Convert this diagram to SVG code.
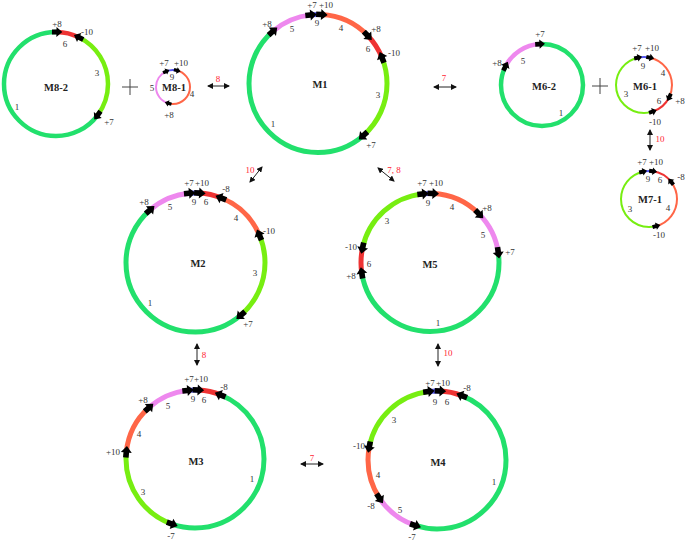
<svg xmlns="http://www.w3.org/2000/svg" xmlns:xlink="http://www.w3.org/1999/xlink" width="685" height="541" viewBox="0 0 685 541">
<defs>
<style>
.s{fill:none}
.g{stroke:#22e06c}
.y{stroke:#77ee11}
.r{stroke:#ee3333}
.o{stroke:#ff6647}
.v{stroke:#ee88ee}
.b{stroke:#5555ee}
.w5{stroke-width:5}
.w4{stroke-width:4.5}
.w2{stroke-width:2}
text{font-family:"Liberation Serif","Times New Roman",serif;text-anchor:middle}
.l{font-size:9px;fill:#333}
.n{font-size:10.5px;font-weight:bold;fill:#222}
.e{font-size:9px;fill:#ff2233}
.c{stroke:#222;stroke-width:1;fill:none;marker-start:url(#m);marker-end:url(#m)}
.p{stroke:#444;stroke-width:1}
</style>
<path id="ah" d="M-5.5,-2.8 H-0.5 V-5.5 L6,0 L-0.5,5.5 V2.8 H-5.5 Z" fill="#000"/>
<marker id="m" viewBox="0 0 6 6" refX="5" refY="3" markerWidth="6" markerHeight="6" markerUnits="userSpaceOnUse" orient="auto-start-reverse">
<path d="M0,0 L6,3 L0,6 Z" fill="#111"/>
</marker>
</defs>
<rect width="685" height="541" fill="#fff"/>

<g id="plus">
<line class="p" x1="122" y1="87" x2="138" y2="87"/><line class="p" x1="130" y1="79" x2="130" y2="95"/>
<line class="p" x1="592" y1="86" x2="608" y2="86"/><line class="p" x1="600" y1="78" x2="600" y2="94"/>
</g>

<g id="M8-2">
<circle class="s r w4" cx="56" cy="84" r="52" pathLength="360" stroke-dasharray="25 335" stroke-dashoffset="89"/>
<circle class="s y w4" cx="56" cy="84" r="52" pathLength="360" stroke-dasharray="101 259" stroke-dashoffset="64"/>
<circle class="s g w4" cx="56" cy="84" r="52" pathLength="360" stroke-dasharray="234 126" stroke-dashoffset="323"/>
<use href="#ah" transform="translate(56,84) rotate(271) translate(52,0) rotate(90) scale(0.9)"/>
<use href="#ah" transform="translate(56,84) rotate(296) translate(52,0) rotate(-90) scale(0.9)"/>
<use href="#ah" transform="translate(56,84) rotate(37) translate(52,0) rotate(90) scale(0.9)"/>
<text class="l" x="57" y="27">+8</text><text class="l" x="87" y="35">-10</text><text class="l" x="65" y="47">6</text>
<text class="l" x="97" y="76">3</text><text class="l" x="109" y="125">+7</text><text class="l" x="17" y="110">1</text>
<text class="n" x="56" y="91">M8-2</text>
</g>

<g id="M8-1">
<circle class="s b w2" cx="173" cy="87" r="17" pathLength="360" stroke-dasharray="38 322" stroke-dashoffset="114"/>
<circle class="s o w2" cx="173" cy="87" r="17" pathLength="360" stroke-dasharray="182 178" stroke-dashoffset="76"/>
<circle class="s v w2" cx="173" cy="87" r="17" pathLength="360" stroke-dasharray="140 220" stroke-dashoffset="254"/>
<use href="#ah" transform="translate(173,87) rotate(246) translate(17,0) rotate(90) scale(0.6)"/>
<use href="#ah" transform="translate(173,87) rotate(284) translate(17,0) rotate(90) scale(0.6)"/>
<use href="#ah" transform="translate(173,87) rotate(106) translate(17,0) rotate(90) scale(0.6)"/>
<text class="l" x="164" y="66">+7</text><text class="l" x="181" y="66">+10</text><text class="l" x="172" y="80">9</text>
<text class="l" x="152" y="91">5</text><text class="l" x="192" y="97">4</text><text class="l" x="169" y="118">+8</text>
<text class="n" x="174" y="91">M8-1</text>
</g>

<g id="M1">
<circle class="s v w5" cx="318" cy="83.5" r="69" pathLength="360" stroke-dasharray="35 325" stroke-dashoffset="131"/>
<circle class="s b w5" cx="318" cy="83.5" r="69" pathLength="360" stroke-dasharray="9 351" stroke-dashoffset="96"/>
<circle class="s o w5" cx="318" cy="83.5" r="69" pathLength="360" stroke-dasharray="43 317" stroke-dashoffset="87"/>
<circle class="s r w5" cx="318" cy="83.5" r="69" pathLength="360" stroke-dasharray="22 338" stroke-dashoffset="44"/>
<circle class="s y w5" cx="318" cy="83.5" r="69" pathLength="360" stroke-dasharray="71 289" stroke-dashoffset="22"/>
<circle class="s g w5" cx="318" cy="83.5" r="69" pathLength="360" stroke-dasharray="180 180" stroke-dashoffset="311"/>
<use href="#ah" transform="translate(318,83.5) rotate(264) translate(69,0) rotate(90)"/>
<use href="#ah" transform="translate(318,83.5) rotate(273) translate(69,0) rotate(90)"/>
<use href="#ah" transform="translate(318,83.5) rotate(316) translate(69,0) rotate(90)"/>
<use href="#ah" transform="translate(318,83.5) rotate(338) translate(69,0) rotate(-90)"/>
<use href="#ah" transform="translate(318,83.5) rotate(49) translate(69,0) rotate(90)"/>
<use href="#ah" transform="translate(318,83.5) rotate(229) translate(69,0) rotate(90)"/>
<text class="l" x="312" y="8">+7</text><text class="l" x="326" y="8">+10</text><text class="l" x="317" y="26">9</text>
<text class="l" x="341" y="31">4</text><text class="l" x="376" y="32">+8</text><text class="l" x="368" y="52">6</text>
<text class="l" x="394" y="56">-10</text><text class="l" x="378" y="98">3</text><text class="l" x="273" y="127">1</text>
<text class="l" x="371" y="148">+7</text><text class="l" x="267" y="27">+8</text><text class="l" x="292" y="32">5</text>
<text class="n" x="320" y="88">M1</text>
</g>

<g id="M6-2">
<circle class="s v w4" cx="542" cy="85" r="41" pathLength="360" stroke-dasharray="60 300" stroke-dashoffset="153"/>
<circle class="s g w4" cx="542" cy="85" r="41" pathLength="360" stroke-dasharray="300 60" stroke-dashoffset="93"/>
<use href="#ah" transform="translate(542,85) rotate(267) translate(41,0) rotate(90) scale(0.85)"/>
<use href="#ah" transform="translate(542,85) rotate(207) translate(41,0) rotate(90) scale(0.85)"/>
<text class="l" x="540" y="37">+7</text><text class="l" x="497" y="66">+8</text><text class="l" x="523" y="64">5</text>
<text class="l" x="561" y="116">1</text>
<text class="n" x="544" y="90">M6-2</text>
</g>

<g id="M6-1">
<circle class="s b w2" cx="644" cy="85" r="28" pathLength="360" stroke-dasharray="26 334" stroke-dashoffset="103"/>
<circle class="s o w2" cx="644" cy="85" r="28" pathLength="360" stroke-dasharray="103 257" stroke-dashoffset="77"/>
<circle class="s r w2" cx="644" cy="85" r="28" pathLength="360" stroke-dasharray="46 314" stroke-dashoffset="334"/>
<circle class="s y w2" cx="644" cy="85" r="28" pathLength="360" stroke-dasharray="185 175" stroke-dashoffset="288"/>
<use href="#ah" transform="translate(644,85) rotate(257.5) translate(28,0) rotate(90) scale(0.7)"/>
<use href="#ah" transform="translate(644,85) rotate(282.5) translate(28,0) rotate(90) scale(0.7)"/>
<use href="#ah" transform="translate(644,85) rotate(25.6) translate(28,0) rotate(90) scale(0.7)"/>
<use href="#ah" transform="translate(644,85) rotate(72) translate(28,0) rotate(-90) scale(0.7)"/>
<text class="l" x="637" y="51">+7</text><text class="l" x="652" y="51">+10</text><text class="l" x="643" y="69">9</text>
<text class="l" x="663" y="76">4</text><text class="l" x="680" y="104">+8</text><text class="l" x="659" y="104">6</text>
<text class="l" x="626" y="97">3</text><text class="l" x="655" y="125">-10</text>
<text class="n" x="645" y="90">M6-1</text>
</g>

<g id="M7-1">
<circle class="s b w2" cx="649" cy="199" r="28" pathLength="360" stroke-dasharray="21 339" stroke-dashoffset="103"/>
<circle class="s r w2" cx="649" cy="199" r="28" pathLength="360" stroke-dasharray="44 316" stroke-dashoffset="82"/>
<circle class="s o w2" cx="649" cy="199" r="28" pathLength="360" stroke-dasharray="113 247" stroke-dashoffset="38"/>
<circle class="s y w2" cx="649" cy="199" r="28" pathLength="360" stroke-dasharray="182 178" stroke-dashoffset="285"/>
<use href="#ah" transform="translate(649,199) rotate(257.5) translate(28,0) rotate(90) scale(0.7)"/>
<use href="#ah" transform="translate(649,199) rotate(278) translate(28,0) rotate(90) scale(0.7)"/>
<use href="#ah" transform="translate(649,199) rotate(322) translate(28,0) rotate(-90) scale(0.7)"/>
<use href="#ah" transform="translate(649,199) rotate(75) translate(28,0) rotate(-90) scale(0.7)"/>
<text class="l" x="642" y="165">+7</text><text class="l" x="656" y="165">+10</text><text class="l" x="648" y="182">9</text>
<text class="l" x="660" y="183">6</text><text class="l" x="681" y="180">-8</text><text class="l" x="668" y="211">4</text>
<text class="l" x="630" y="212">3</text><text class="l" x="659" y="238">-10</text>
<text class="n" x="650" y="203">M7-1</text>
</g>

<g id="M2">
<circle class="s v w5" cx="195.5" cy="262.5" r="69.5" pathLength="360" stroke-dasharray="36 324" stroke-dashoffset="131"/>
<circle class="s b w5" cx="195.5" cy="262.5" r="69.5" pathLength="360" stroke-dasharray="8 352" stroke-dashoffset="95"/>
<circle class="s r w5" cx="195.5" cy="262.5" r="69.5" pathLength="360" stroke-dasharray="19 341" stroke-dashoffset="87"/>
<circle class="s o w5" cx="195.5" cy="262.5" r="69.5" pathLength="360" stroke-dasharray="45 315" stroke-dashoffset="68"/>
<circle class="s y w5" cx="195.5" cy="262.5" r="69.5" pathLength="360" stroke-dasharray="72 288" stroke-dashoffset="23"/>
<circle class="s g w5" cx="195.5" cy="262.5" r="69.5" pathLength="360" stroke-dasharray="180 180" stroke-dashoffset="311"/>
<use href="#ah" transform="translate(195.5,262.5) rotate(229) translate(69.5,0) rotate(90)"/>
<use href="#ah" transform="translate(195.5,262.5) rotate(265) translate(69.5,0) rotate(90)"/>
<use href="#ah" transform="translate(195.5,262.5) rotate(273.4) translate(69.5,0) rotate(90)"/>
<use href="#ah" transform="translate(195.5,262.5) rotate(291.6) translate(69.5,0) rotate(-90)"/>
<use href="#ah" transform="translate(195.5,262.5) rotate(336.8) translate(69.5,0) rotate(-90)"/>
<use href="#ah" transform="translate(195.5,262.5) rotate(49.2) translate(69.5,0) rotate(90)"/>
<text class="l" x="144" y="205">+8</text><text class="l" x="170" y="210">5</text><text class="l" x="189" y="186">+7</text>
<text class="l" x="202" y="186">+10</text><text class="l" x="194" y="205">9</text><text class="l" x="206" y="205">6</text>
<text class="l" x="226" y="192">-8</text><text class="l" x="236" y="221">4</text><text class="l" x="269" y="234">-10</text>
<text class="l" x="255" y="276">3</text><text class="l" x="150" y="306">1</text><text class="l" x="248" y="327">+7</text>
<text class="n" x="198" y="267">M2</text>
</g>

<g id="M5">
<circle class="s b w5" cx="430" cy="262.5" r="69" pathLength="360" stroke-dasharray="8.5 351.5" stroke-dashoffset="96"/>
<circle class="s o w5" cx="430" cy="262.5" r="69" pathLength="360" stroke-dasharray="42.5 317.5" stroke-dashoffset="87.5"/>
<circle class="s v w5" cx="430" cy="262.5" r="69" pathLength="360" stroke-dasharray="37 323" stroke-dashoffset="45"/>
<circle class="s g w5" cx="430" cy="262.5" r="69" pathLength="360" stroke-dasharray="179 181" stroke-dashoffset="8"/>
<circle class="s r w5" cx="430" cy="262.5" r="69" pathLength="360" stroke-dasharray="21 339" stroke-dashoffset="189"/>
<circle class="s y w5" cx="430" cy="262.5" r="69" pathLength="360" stroke-dasharray="72 288" stroke-dashoffset="168"/>
<use href="#ah" transform="translate(430,262.5) rotate(264) translate(69,0) rotate(90)"/>
<use href="#ah" transform="translate(430,262.5) rotate(272.5) translate(69,0) rotate(90)"/>
<use href="#ah" transform="translate(430,262.5) rotate(315.3) translate(69,0) rotate(90)"/>
<use href="#ah" transform="translate(430,262.5) rotate(351.8) translate(69,0) rotate(90)"/>
<use href="#ah" transform="translate(430,262.5) rotate(171.2) translate(69,0) rotate(90)"/>
<use href="#ah" transform="translate(430,262.5) rotate(192.2) translate(69,0) rotate(-90)"/>
<text class="l" x="422" y="186">+7</text><text class="l" x="436" y="186">+10</text><text class="l" x="428" y="206">9</text>
<text class="l" x="452" y="210">4</text><text class="l" x="487" y="211">+8</text><text class="l" x="483" y="238">5</text>
<text class="l" x="510" y="255">+7</text><text class="l" x="351" y="250">-10</text><text class="l" x="369" y="267">6</text>
<text class="l" x="351" y="279">+8</text><text class="l" x="387" y="224">3</text><text class="l" x="438" y="326">1</text>
<text class="n" x="430" y="268">M5</text>
</g>

<g id="M3">
<circle class="s b w5" cx="195" cy="459" r="69" pathLength="360" stroke-dasharray="9 351" stroke-dashoffset="96"/>
<circle class="s r w5" cx="195" cy="459" r="69" pathLength="360" stroke-dasharray="19 341" stroke-dashoffset="87"/>
<circle class="s g w5" cx="195" cy="459" r="69" pathLength="360" stroke-dasharray="177.5 182.5" stroke-dashoffset="68"/>
<circle class="s y w5" cx="195" cy="459" r="69" pathLength="360" stroke-dasharray="76.5 283.5" stroke-dashoffset="250.5"/>
<circle class="s o w5" cx="195" cy="459" r="69" pathLength="360" stroke-dasharray="42 318" stroke-dashoffset="174"/>
<circle class="s v w5" cx="195" cy="459" r="69" pathLength="360" stroke-dasharray="36 324" stroke-dashoffset="132"/>
<use href="#ah" transform="translate(195,459) rotate(264) translate(69,0) rotate(90)"/>
<use href="#ah" transform="translate(195,459) rotate(272.6) translate(69,0) rotate(90)"/>
<use href="#ah" transform="translate(195,459) rotate(291.6) translate(69,0) rotate(-90)"/>
<use href="#ah" transform="translate(195,459) rotate(109.5) translate(69,0) rotate(-90)"/>
<use href="#ah" transform="translate(195,459) rotate(185.8) translate(69,0) rotate(90)"/>
<use href="#ah" transform="translate(195,459) rotate(228) translate(69,0) rotate(90)"/>
<text class="l" x="189" y="382">+7</text><text class="l" x="201" y="382">+10</text><text class="l" x="193" y="402">9</text>
<text class="l" x="204" y="403">6</text><text class="l" x="224" y="390">-8</text><text class="l" x="143" y="403">+8</text>
<text class="l" x="168" y="409">5</text><text class="l" x="139" y="437">4</text><text class="l" x="113" y="455">+10</text>
<text class="l" x="143" y="495">3</text><text class="l" x="171" y="539">-7</text><text class="l" x="252" y="482">1</text>
<text class="n" x="196" y="465">M3</text>
</g>

<g id="M4">
<circle class="s b w5" cx="437" cy="460" r="69" pathLength="360" stroke-dasharray="9.6 350.4" stroke-dashoffset="97"/>
<circle class="s r w5" cx="437" cy="460" r="69" pathLength="360" stroke-dasharray="18.4 341.6" stroke-dashoffset="87.4"/>
<circle class="s g w5" cx="437" cy="460" r="69" pathLength="360" stroke-dasharray="177.4 182.6" stroke-dashoffset="69"/>
<circle class="s v w5" cx="437" cy="460" r="69" pathLength="360" stroke-dasharray="37.9 322.1" stroke-dashoffset="251.6"/>
<circle class="s o w5" cx="437" cy="460" r="69" pathLength="360" stroke-dasharray="44.7 315.3" stroke-dashoffset="213.7"/>
<circle class="s y w5" cx="437" cy="460" r="69" pathLength="360" stroke-dasharray="72 288" stroke-dashoffset="169"/>
<use href="#ah" transform="translate(437,460) rotate(263) translate(69,0) rotate(90)"/>
<use href="#ah" transform="translate(437,460) rotate(272.6) translate(69,0) rotate(90)"/>
<use href="#ah" transform="translate(437,460) rotate(291.2) translate(69,0) rotate(-90)"/>
<use href="#ah" transform="translate(437,460) rotate(108.4) translate(69,0) rotate(-90)"/>
<use href="#ah" transform="translate(437,460) rotate(146.3) translate(69,0) rotate(-90)"/>
<use href="#ah" transform="translate(437,460) rotate(191) translate(69,0) rotate(-90)"/>
<text class="l" x="430" y="386">+7</text><text class="l" x="443" y="386">+10</text><text class="l" x="435" y="405">9</text>
<text class="l" x="447" y="405">6</text><text class="l" x="467" y="391">-8</text><text class="l" x="394" y="423">3</text>
<text class="l" x="359" y="449">-10</text><text class="l" x="378" y="478">4</text><text class="l" x="371" y="509">-8</text>
<text class="l" x="400" y="513">5</text><text class="l" x="412" y="540">-7</text><text class="l" x="494" y="485">1</text>
<text class="n" x="438" y="466">M4</text>
</g>

<g id="connectors">
<line class="c" x1="208" y1="86" x2="229" y2="86"/><text class="e" x="218" y="82">8</text>
<line class="c" x1="434" y1="87" x2="456" y2="87"/><text class="e" x="444" y="81">7</text>
<line class="c" x1="650" y1="130" x2="650" y2="150"/><text class="e" x="660" y="142">10</text>
<line class="c" x1="250" y1="182" x2="262" y2="167"/><text class="e" x="250" y="173">10</text>
<line class="c" x1="378" y1="168" x2="394" y2="181"/><text class="e" x="394" y="173">7, 8</text>
<line class="c" x1="197" y1="344" x2="197" y2="365"/><text class="e" x="204" y="358">8</text>
<line class="c" x1="438" y1="344" x2="438" y2="366"/><text class="e" x="448" y="356">10</text>
<line class="c" x1="301" y1="464" x2="323" y2="464"/><text class="e" x="312" y="461">7</text>
</g>
</svg>
